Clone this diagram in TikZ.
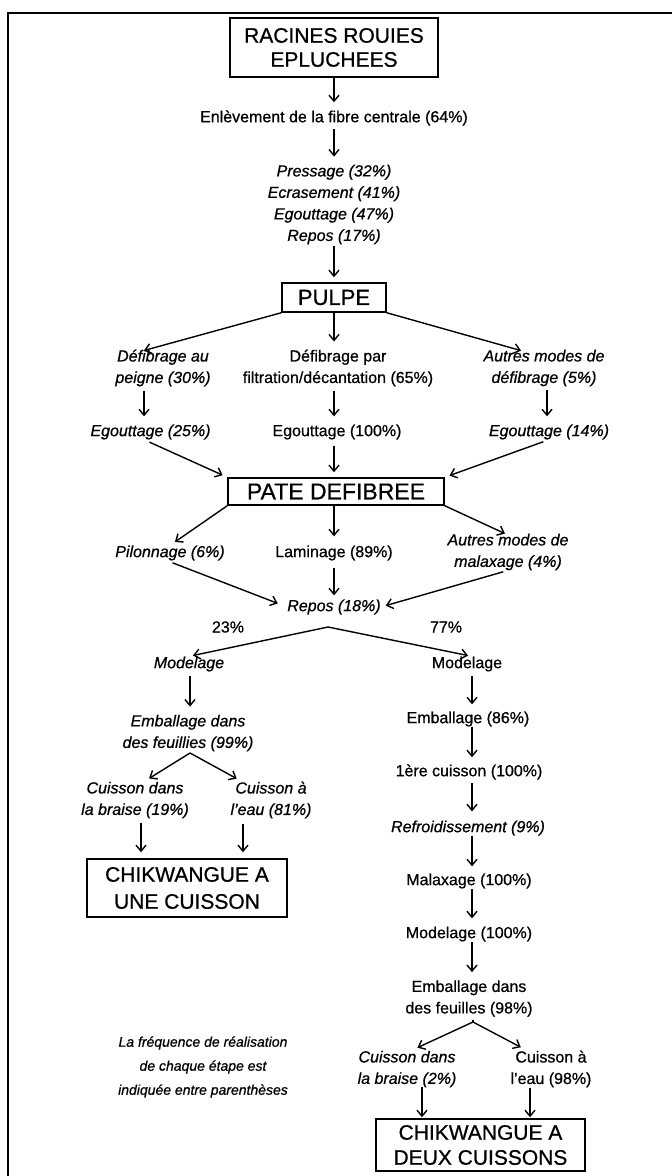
\documentclass[tikz,border=0pt]{standalone}
\usepackage{fontspec}
\setmainfont[FakeBold=0.7,BoldFont={Liberation Sans},BoldItalicFont={Liberation Sans Italic}]{Liberation Sans}
\usetikzlibrary{arrows.meta}
\begin{document}
\begin{tikzpicture}[x=1pt,y=-1pt,
  txt/.style={inner sep=0pt, align=center, font=\fontsize{16}{21.5}\selectfont},
  itx/.style={inner sep=0pt, align=center, font=\fontsize{16}{21.5}\selectfont\itshape},
  bx/.style={draw, line width=1.5pt, inner sep=0pt, align=center, font=\fontsize{21}{24}\selectfont},
  arr/.style={line width=1.4pt, -{Straight Barb[length=6pt,width=10pt]}},
  ln/.style={line width=1.4pt},
  frame/.style={line width=1.6pt}
]
\useasboundingbox (0,0) rectangle (672,1176);
% frame (top and left edges)
\coordinate (ftl) at (8,13);
\coordinate (ftr) at (672,13);
\coordinate (fbl) at (8,1176);
\draw[frame] (ftr) -- (ftl) -- (fbl);

% top part
\node[bx, minimum width=208pt, minimum height=59pt] (r) at (334,47.5) {RACINES ROUIES\\EPLUCHEES};
\node[txt] (e1) at (334,118) {Enlèvement de la fibre centrale (64\%)};
\node[itx] (e2) at (334,204.5) {Pressage (32\%)\\Ecrasement (41\%)\\Egouttage (47\%)\\Repos (17\%)};
\node[bx, minimum width=104pt, minimum height=29pt, font=\fontsize{22}{24}\selectfont] (p) at (334,297.5) {PULPE};

\node[itx] (d1) at (163,368) {Défibrage au\\peigne (30\%)};
\node[txt] (d2) at (338,368) {Défibrage par\\filtration/décantation (65\%)};
\node[itx] (d3) at (544,368) {Autres modes de\\défibrage (5\%)};
\node[itx] (g1) at (150.5,432) {Egouttage (25\%)};
\node[txt] (g2) at (337,432) {Egouttage (100\%)};
\node[itx] (g3) at (549,432) {Egouttage (14\%)};
\node[bx, minimum width=216pt, minimum height=27pt, font=\fontsize{23}{24}\selectfont] (pd) at (336,491.5) {PATE DEFIBREE};

\node[itx] (m1) at (170,553) {Pilonnage (6\%)};
\node[txt] (m2) at (334,553) {Laminage (89\%)};
\node[itx] (m3) at (508,552) {Autres modes de\\malaxage (4\%)};
\node[itx] (rp) at (334,607) {Repos (18\%)};
\node[txt] (p23) at (228,627) {23\%};
\node[txt] (p77) at (446,627) {77\%};
\coordinate (s1) at (328,627);

% left branch
\node[itx] (ml) at (189,664) {Modelage};
\node[itx] (el) at (188,733) {Emballage dans\\des feuillies (99\%)};
\coordinate (s2) at (190,753);
\node[itx] (cl1) at (135,800) {Cuisson dans\\la braise (19\%)};
\node[itx] (cl2) at (271,800) {Cuisson à\\l'eau (81\%)};
\node[bx, minimum width=200pt, minimum height=58pt, font=\fontsize{21}{27}\selectfont] (u1) at (187,888) {CHIKWANGUE A\\UNE CUISSON};

% right branch
\node[txt] (mr) at (467,664) {Modelage};
\node[txt] (er) at (468,719) {Emballage (86\%)};
\node[txt] (c1) at (469,772) {1ère cuisson (100\%)};
\node[itx] (rf) at (468,828) {Refroidissement (9\%)};
\node[txt] (mx) at (469,881) {Malaxage (100\%)};
\node[txt] (md) at (469,934) {Modelage (100\%)};
\node[txt] (ef) at (469,998.5) {Emballage dans\\des feuilles (98\%)};
\coordinate (s3) at (473,1022);
\node[itx] (cr1) at (407,1069) {Cuisson dans\\la braise (2\%)};
\node[txt] (cr2) at (551,1069) {Cuisson à\\l'eau (98\%)};
\node[bx, minimum width=209pt, minimum height=52pt, font=\fontsize{21}{25}\selectfont] (u2) at (480.5,1145) {CHIKWANGUE A\\DEUX CUISSONS};

% note
\node[inner sep=0pt, align=center, font=\fontsize{14}{24}\selectfont\itshape] (note) at (203,1067)
  {La fréquence de réalisation\\de chaque étape est\\indiquée entre parenthèses};

% connectors
\draw[arr, shorten >=8pt] (r.south) -- (e1.north);
\draw[arr, shorten <=3pt, shorten >=8pt] (e1.south) -- (e2.north);
\draw[arr, shorten <=2pt, shorten >=5pt] (e2.south) -- (p.north);

\draw[arr] (p.south west) -- ([xshift=-19pt,yshift=-1pt]d1.north);
\draw[arr, shorten >=8pt] (p.south) -- ([xshift=-4pt]d2.north);
\draw[arr] (p.south east) -- ([xshift=-23pt,yshift=-1pt]d3.north);

\draw[arr, shorten <=4pt, shorten >=8pt] ([xshift=-19pt]d1.south) -- ([xshift=-6.5pt]g1.north);
\draw[arr, shorten <=4pt, shorten >=8pt] ([xshift=-4pt]d2.south) -- ([xshift=-3pt]g2.north);
\draw[arr, shorten <=4pt, shorten >=8pt] ([xshift=3pt]d3.south) -- ([xshift=-2pt]g3.north);

\draw[arr, shorten <=6pt, shorten >=5pt] ([xshift=-6.5pt]g1.south) -- (pd.north west);
\draw[arr, shorten <=6pt, shorten >=5pt] ([xshift=-3pt]g2.south) -- ([xshift=-2pt]pd.north);
\draw[arr, shorten <=6pt, shorten >=5pt] (g3.south) -- (pd.north east);

\draw[arr, shorten >=6pt] (pd.south west) -- (m1.north);
\draw[arr, shorten >=9pt] ([xshift=-2pt]pd.south) -- (m2.north);
\draw[arr] (pd.south east) -- ([xshift=-3pt]m3.north);

\draw[arr, shorten <=6pt, shorten >=10pt] ([xshift=-3pt]m1.south) -- (rp.west);
\draw[arr, shorten <=7pt, shorten >=4pt] (m2.south) -- (rp.north);
\draw[arr, shorten <=5pt, shorten >=5pt] (m3.south) -- (rp.east);

\draw[arr, shorten >=4pt] (s1) -- (ml.north);
\draw[arr, shorten >=4pt] (s1) -- ([xshift=5pt]mr.north);

\draw[arr, shorten <=4pt, shorten >=8pt] ([xshift=1pt]ml.south) -- ([xshift=2pt]el.north);
\draw[ln, shorten <=3pt] ([xshift=2pt]el.south) -- (s2);
\draw[arr, shorten >=6pt] (s2) -- ([xshift=9pt]cl1.north);
\draw[arr, shorten >=6pt] (s2) -- ([xshift=-29pt]cl2.north);
\draw[arr, shorten <=5pt, shorten >=6pt] ([xshift=6pt]cl1.south) -- ([xshift=-46pt]u1.north);
\draw[arr, shorten <=5pt, shorten >=6pt] ([xshift=-28pt]cl2.south) -- ([xshift=56pt]u1.north);

\draw[arr, shorten <=4pt, shorten >=7pt] ([xshift=5pt]mr.south) -- ([xshift=4pt]er.north);
\draw[arr, shorten <=0pt, shorten >=7pt] ([xshift=4pt]er.south) -- ([xshift=3pt]c1.north);
\draw[arr, shorten <=3pt, shorten >=9pt] ([xshift=3pt]c1.south) -- ([xshift=4pt]rf.north);
\draw[arr, shorten <=0pt, shorten >=7pt] ([xshift=4pt]rf.south) -- ([xshift=3pt]mx.north);
\draw[arr, shorten <=0pt, shorten >=8pt] ([xshift=3pt]mx.south) -- ([xshift=3pt]md.north);
\draw[arr, shorten <=0pt, shorten >=8pt] ([xshift=3pt]md.south) -- ([xshift=3pt]ef.north);
\draw[ln, shorten <=3pt] ([xshift=4pt]ef.south) -- (s3);
\draw[arr, shorten >=7pt] (s3) -- ([xshift=4pt]cr1.north);
\draw[arr, shorten >=7pt] (s3) -- ([xshift=-24pt]cr2.north);
\draw[arr, shorten <=0pt, shorten >=1pt] ([xshift=15pt]cr1.south) -- ([xshift=-58.5pt]u2.north);
\draw[arr, shorten <=0pt, shorten >=1pt] ([xshift=-21pt]cr2.south) -- ([xshift=49.5pt]u2.north);
\end{tikzpicture}
\end{document}
